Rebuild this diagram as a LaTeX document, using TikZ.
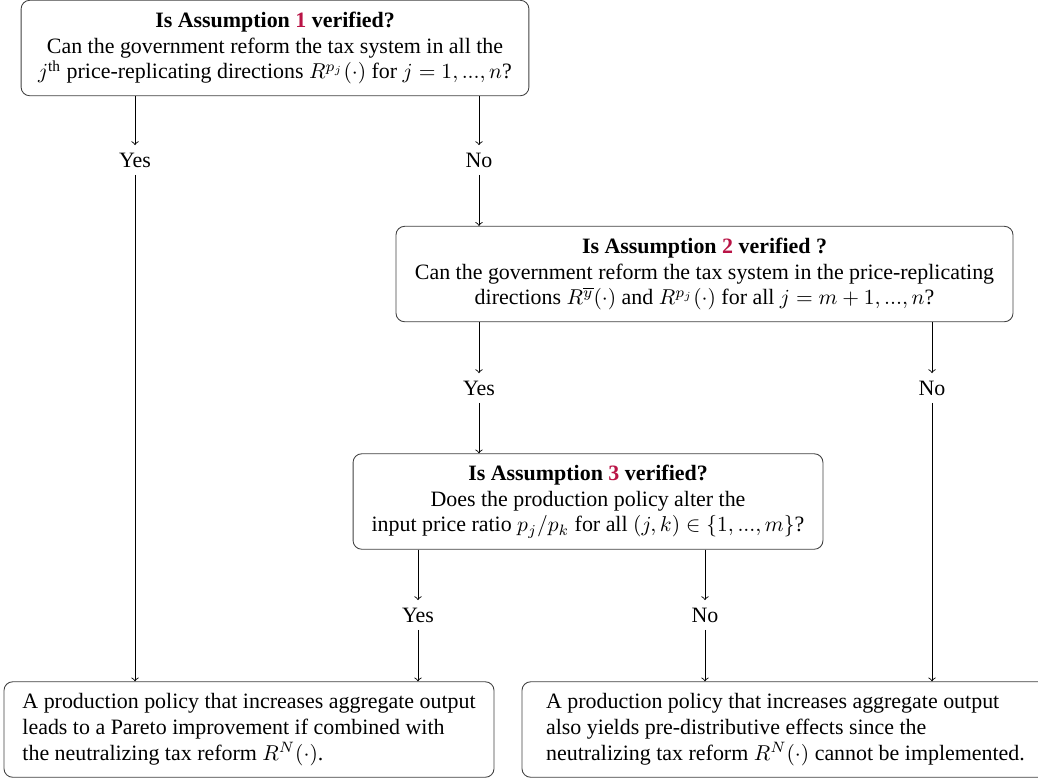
\documentclass[tikz,border=0pt]{standalone}
\usepackage{amsmath}
\usepackage{fontspec}
\setmainfont{Liberation Serif}
\usepackage{tikz}
\definecolor{assumred}{RGB}{185,20,70}
\newcommand{\assum}[1]{\textcolor{assumred}{#1}}
\tikzset{
    question/.style={rectangle,rounded corners,draw=black!75,align=center,minimum height=1.56cm,inner sep=2pt,font=\fontsize{10.2}{12}\selectfont},
    outcome/.style={rectangle,rounded corners,draw=black!75,align=left,minimum height=1.56cm,inner sep=2pt,font=\fontsize{10.2}{12}\selectfont},
    answer/.style={inner sep=0.333em,font=\fontsize{10.2}{12}\selectfont},
}
\usetikzlibrary{shapes}
\usetikzlibrary{positioning}

\begin{document}
\begin{tikzpicture}[>=to]
\useasboundingbox (0,0) rectangle (16.966,-12.749);
\node[question,minimum width=8.30cm] (Q1) at (4.495,-0.785) {\textbf{Is Assumption \assum{1} verified?}\\
Can the government reform the tax system in all the\\
$j^{\text{th}}$ price-replicating directions $R^{p_j}(\cdot)$ for $j=1,...,n$?};
\node[question,minimum width=10.085cm] (Q2) at (11.515,-4.479) {\textbf{Is Assumption \assum{2} verified ?}\\
Can the government reform the tax system in the price-replicating\\
directions $R^{\overline{y}}(\cdot)$ and $R^{p_j}(\cdot)$ for all $j=m+1,...,n$?};
\node[question,minimum width=7.68cm] (Q3) at (9.611,-8.197) {\textbf{Is Assumption \assum{3} verified?}\\
Does the production policy alter the\\
input price ratio $p_j/p_k$ for all $(j,k)\in\{1,...,m\}$?};
\node[outcome,minimum width=8.009cm] (B1) at (4.070,-11.924) {A production policy that increases aggregate output\\
leads to a Pareto improvement if combined with\\
the neutralizing tax reform $R^N(\cdot)$.};
\node[outcome,minimum width=8.614cm] (B2) at (12.839,-11.924) {A production policy that increases aggregate output\\
also yields pre-distributive effects since the\\
neutralizing tax reform $R^N(\cdot)$ cannot be implemented.};
% answers
\node[answer] (yes1) at (2.207,-2.615) {Yes};
\node[answer] (no1) at (7.829,-2.615) {No};
\node[answer] (yes2) at (7.829,-6.342) {Yes};
\node[answer] (no2) at (15.234,-6.342) {No};
\node[answer] (yes3) at (6.832,-10.052) {Yes};
\node[answer] (no3) at (11.523,-10.052) {No};
% connectors
\draw[->] (Q1.south -| yes1) -- (yes1);
\draw[->] (yes1) -- (yes1 |- B1.north);
\draw[->] (Q1.south -| no1) -- (no1);
\draw[->] (no1) -- (no1 |- Q2.north);
\draw[->] (Q2.south -| yes2) -- (yes2);
\draw[->] (yes2) -- (yes2 |- Q3.north);
\draw[->] (Q2.south -| no2) -- (no2);
\draw[->] (no2) -- (no2 |- B2.north);
\draw[->] (Q3.south -| yes3) -- (yes3);
\draw[->] (yes3) -- (yes3 |- B1.north);
\draw[->] (Q3.south -| no3) -- (no3);
\draw[->] (no3) -- (no3 |- B2.north);
\end{tikzpicture}
\end{document}
